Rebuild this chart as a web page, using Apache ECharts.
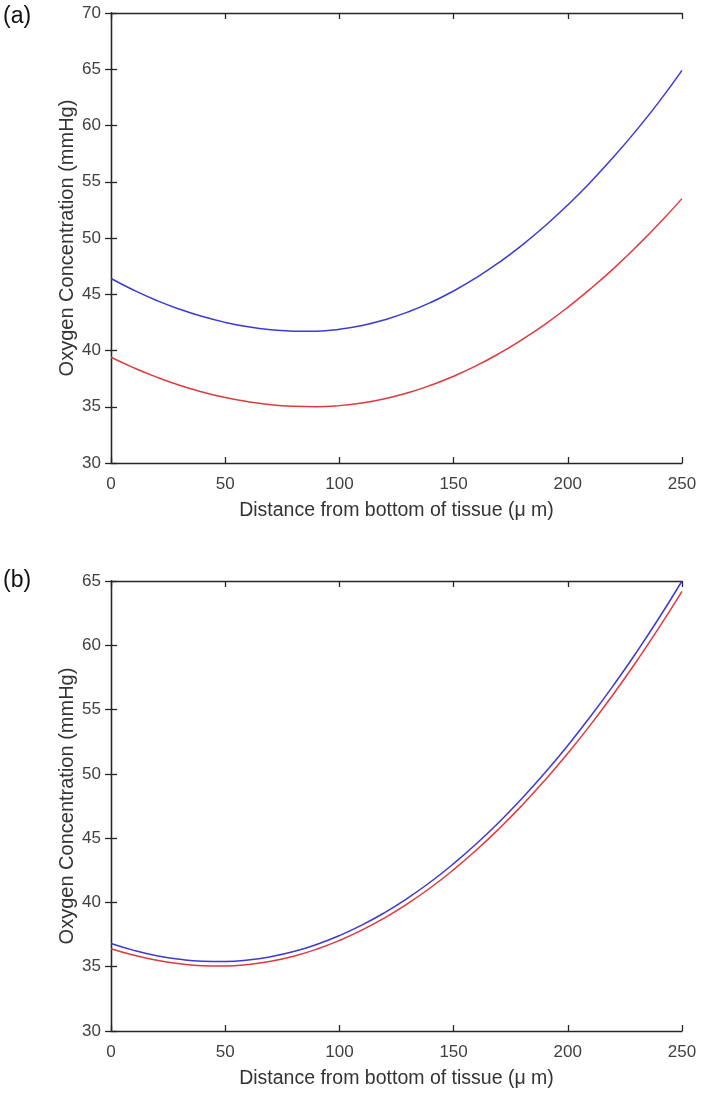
<!DOCTYPE html>
<html>
<head>
<meta charset="utf-8">
<script src="https://cdn.jsdelivr.net/npm/echarts@6/dist/echarts.min.js"></script>
<style>
  html, body { margin: 0; padding: 0; background: #fff; }
  #chart { width: 702px; height: 1095px; }
</style>
</head>
<body>
<div id="chart"></div>
<script>
// distance from bottom of tissue (um)
const xs = [0, 10, 20, 30, 40, 50, 60, 70, 80, 90, 100, 110, 120, 130, 140, 150,
            160, 170, 180, 190, 200, 210, 220, 230, 240, 250];

// panel (a)
const blueA = [46.4, 45.36, 44.45, 43.67, 43.02, 42.5, 42.11, 41.85, 41.72, 41.72, 41.89, 42.23, 42.74,
               43.42, 44.27, 45.29, 46.48, 47.84, 49.37, 51.07, 52.94, 54.98, 57.19, 59.57, 62.12, 64.9];
const redA  = [39.4, 38.46, 37.63, 36.91, 36.31, 35.82, 35.45, 35.18, 35.04, 35.0, 35.1, 35.34, 35.72,
               36.24, 36.91, 37.71, 38.65, 39.74, 40.97, 42.33, 43.84, 45.49, 47.28, 49.22, 51.29, 53.5];

// panel (b)
const blueB = [36.8, 36.27, 35.86, 35.58, 35.43, 35.41, 35.52, 35.78, 36.18, 36.73, 37.42, 38.25, 39.23,
               40.35, 41.61, 43.02, 44.57, 46.26, 48.1, 50.08, 52.21, 54.48, 56.89, 59.44, 62.14, 65.0];
const redB  = [36.4, 35.89, 35.5, 35.23, 35.08, 35.06, 35.17, 35.42, 35.82, 36.36, 37.04, 37.86, 38.82,
               39.92, 41.16, 42.55, 44.08, 45.75, 47.56, 49.51, 51.6, 53.83, 56.21, 58.73, 61.39, 64.2];

const panelLabels = ['(a)', '(b)'];
const yRanges = [[30, 70], [30, 65]];

const xName = 'Distance from bottom of tissue (\u03bc m)';
const yName = 'Oxygen Concentration (mmHg)';

const axisColor = '#262626';
const labelColor = '#404040';
const font = 'Liberation Sans, Arial, sans-serif';

function pairs(ys) {
    return xs.map((x, i) => [x, ys[i]]);
}

let chartObj = echarts.init(document.getElementById('chart'));

const grids = [
    { left: 111, top: 13, width: 571, height: 450 },
    { left: 111, top: 581, width: 571, height: 450 }
];

let xAxis = [];
let yAxis = [];
grids.forEach((g, i) => {
    const lineStyle = { lineStyle: { color: axisColor, width: 1.3 } };
    xAxis.push({
        type: 'value', gridIndex: i, position: 'bottom',
        min: 0, max: 250, interval: 50,
        name: xName, nameLocation: 'middle', nameGap: 38,
        nameTextStyle: { color: '#333', fontSize: 19.5, fontFamily: font },
        axisLine: { show: true, ...lineStyle },
        axisTick: { show: true, inside: true, length: 6, ...lineStyle },
        axisLabel: { color: labelColor, fontSize: 17, fontFamily: font, margin: 13 },
        splitLine: { show: false }
    });
    xAxis.push({
        type: 'value', gridIndex: i, position: 'top',
        min: 0, max: 250, interval: 50,
        axisLine: { show: true, ...lineStyle },
        axisTick: { show: true, inside: true, length: 6, ...lineStyle },
        axisLabel: { show: false },
        splitLine: { show: false }
    });
    yAxis.push({
        type: 'value', gridIndex: i, position: 'left',
        min: yRanges[i][0], max: yRanges[i][1], interval: 5,
        name: yName, nameLocation: 'middle', nameGap: 34, nameMoveOverlap: false,
        nameTextStyle: { color: '#333', fontSize: 20, fontFamily: font },
        axisLine: { show: true, ...lineStyle },
        axisTick: { show: true, inside: true, length: 6, ...lineStyle },
        axisLabel: { color: labelColor, fontSize: 17, fontFamily: font, margin: 10 },
        splitLine: { show: false }
    });
    yAxis.push({
        type: 'value', gridIndex: i, position: 'right',
        min: yRanges[i][0], max: yRanges[i][1], interval: 5,
        axisLine: { show: true, ...lineStyle },
        axisTick: { show: true, inside: true, length: 6, ...lineStyle },
        axisLabel: { show: false },
        splitLine: { show: false }
    });
});

function line(data, color, gi) {
    return {
        type: 'line', xAxisIndex: gi * 2, yAxisIndex: gi * 2,
        data: pairs(data), smooth: true, symbol: 'none',
        lineStyle: { color: color, width: 1.5 },
        animation: false
    };
}

const blue = '#3a3ad6';
const red = '#e0393e';

let options = {
    backgroundColor: '#fff',
    animation: false,
    graphic: [
        { type: 'text', left: 3, top: 5, style: { text: panelLabels[0], font: '23px ' + font, fill: '#111' } },
        { type: 'text', left: 3, top: 569, style: { text: panelLabels[1], font: '23px ' + font, fill: '#111' } }
    ],
    grid: grids,
    xAxis: xAxis,
    yAxis: yAxis,
    series: [
        line(blueA, blue, 0),
        line(redA, red, 0),
        line(blueB, blue, 1),
        line(redB, red, 1)
    ]
};
chartObj.setOption(options);
</script>
</body>
</html>
